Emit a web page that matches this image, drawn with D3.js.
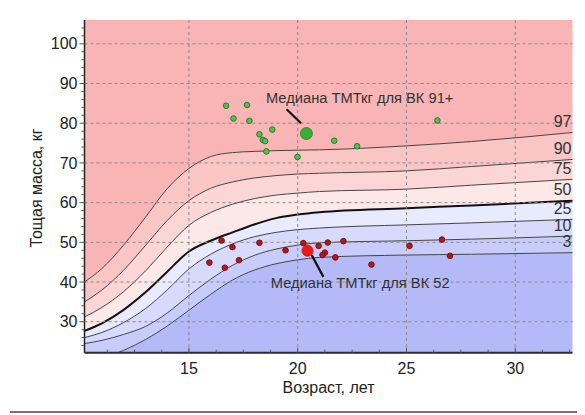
<!DOCTYPE html>
<html>
<head>
<meta charset="utf-8">
<script src="https://cdn.jsdelivr.net/npm/d3@7"></script>
<style>
  html, body { margin: 0; padding: 0; background: #fff; }
  svg { display: block; font-family: "Liberation Sans", Arial, sans-serif; }
</style>
</head>
<body>
<svg id="chart" width="585" height="415"></svg>
<script>
// Percentile curves of lean body mass by age
const ages = [10.2, 11, 12, 13, 14, 15, 16, 17, 18, 19, 20, 21, 25, 28, 32.7];
const p97 = [40.0, 43.4, 49.3, 56.3, 63.5, 68.6, 71.6, 72.6, 72.9, 73.1, 73.2, 73.3, 74.3, 75.4, 77.7];
const p90 = [35.0, 38.0, 43.0, 49.2, 55.5, 60.5, 63.6, 65.2, 66.2, 66.8, 67.2, 67.4, 68.0, 69.1, 70.9];
const p75 = [31.2, 33.6, 37.6, 42.8, 48.8, 54.3, 57.5, 59.6, 61.0, 61.9, 62.4, 62.8, 63.4, 64.4, 65.9];
const p50 = [27.7, 29.6, 33.0, 37.4, 42.6, 47.7, 50.4, 52.5, 54.5, 56.1, 57.0, 57.6, 58.6, 59.3, 60.5];
const p25 = [26.0, 27.3, 29.8, 33.3, 38.0, 43.3, 47.0, 49.6, 51.4, 52.5, 53.2, 53.6, 54.4, 54.9, 55.8];
const p10 = [24.5, 25.3, 26.8, 28.8, 32.2, 36.6, 40.7, 44.2, 46.7, 48.3, 49.3, 49.9, 50.4, 50.8, 51.6];
const p3  = [19.5, 20.8, 22.8, 25.5, 28.9, 32.9, 36.9, 40.5, 43.0, 44.6, 45.6, 46.2, 46.8, 47.0, 47.4];
const percentileNames = ["97", "90", "75", "50", "25", "10", "3"];

// Weight class 91+ athletes
const greenAge  = [16.71, 17.67, 17.05, 17.78, 18.83, 18.24, 18.40, 18.50, 18.56, 19.99, 21.68, 22.73, 26.42];
const greenMass = [84.4, 84.6, 81.2, 80.6, 78.4, 77.2, 75.8, 75.5, 72.9, 71.5, 75.6, 74.2, 80.7];
// Weight class 52 athletes
const redAge  = [16.50, 17.00, 18.24, 15.94, 16.65, 17.30, 19.44, 20.26, 20.96, 21.38, 22.10, 21.25, 21.14, 21.73, 23.39, 25.14, 26.63, 27.00];
const redMass = [50.45, 48.8, 49.9, 44.9, 43.6, 45.5, 48.0, 49.8, 49.1, 49.95, 50.3, 47.4, 46.8, 46.2, 44.4, 49.1, 50.7, 46.6];

// Medians
const medianGreen = { age: 20.40, mass: 77.4, label: "Медиана ТМТкг для ВК 91+" };
const medianRed   = { age: 20.45, mass: 47.9, label: "Медиана ТМТкг для ВК 52" };

const xTicks = [15, 20, 25, 30];
const yTicks = [30, 40, 50, 60, 70, 80, 90, 100];

(function draw() {
  const svg = d3.select("#chart");
  const pl = 84.5, pr = 572.5, pt = 20, pb = 352.7;
  const x = d3.scaleLinear().domain([10.2, 32.63]).range([pl, pr]);
  const y = d3.scaleLinear().domain([22.2, 106]).range([pb, pt]);

  svg.append("defs").append("clipPath").attr("id", "plotClip")
    .append("rect").attr("x", pl).attr("y", pt)
    .attr("width", pr - pl).attr("height", pb - pt);

  const plot = svg.append("g").attr("clip-path", "url(#plotClip)");

  const curves = [p97, p90, p75, p50, p25, p10, p3];
  const yMax = 106, yMin = 22.2;
  const bandColors = ["#f9b5b5", "#fac5c5", "#fcd6d6", "#fde8e8", "#e8eafd", "#d7dafc", "#c8ccfa", "#b4b9f8"];

  // bands from top to bottom
  const bandBounds = [];
  bandBounds.push([ages.map(() => yMax), p97]);
  for (let i = 0; i < curves.length - 1; i++) bandBounds.push([curves[i], curves[i + 1]]);
  bandBounds.push([p3, ages.map(() => yMin - 10)]);

  const area = d3.area()
    .x(d => x(d.a))
    .y0(d => y(d.lo))
    .y1(d => y(d.hi))
    .curve(d3.curveMonotoneX);

  bandBounds.forEach((b, i) => {
    const data = ages.map((a, k) => ({ a, hi: b[0][k], lo: b[1][k] }));
    plot.append("path").attr("d", area(data)).attr("fill", bandColors[i]);
  });

  // grid
  const grid = svg.append("g").attr("stroke", "#8a8a8a").attr("stroke-width", 1).attr("stroke-dasharray", "3,3");
  xTicks.forEach(t => grid.append("line").attr("x1", x(t)).attr("x2", x(t)).attr("y1", pt).attr("y2", pb));
  yTicks.forEach(t => grid.append("line").attr("x1", pl).attr("x2", pr).attr("y1", y(t)).attr("y2", y(t)));

  // percentile lines
  const line = d3.line().x(d => x(d.a)).y(d => y(d.v)).curve(d3.curveMonotoneX);
  curves.forEach((c, i) => {
    const data = ages.map((a, k) => ({ a, v: c[k] }));
    plot.append("path").attr("d", line(data)).attr("fill", "none")
      .attr("stroke", percentileNames[i] === "50" ? "#111" : "#444")
      .attr("stroke-width", percentileNames[i] === "50" ? 2 : 1);
  });

  // percentile labels at the right edge
  const lastAge = x.domain()[1];
  curves.forEach((c, i) => {
    const interp = d3.scaleLinear().domain(ages).range(c);
    svg.append("text")
      .attr("x", pr - 1).attr("y", y(interp(lastAge)) - 11)
      .attr("dy", "0.35em").attr("text-anchor", "end")
      .attr("font-size", 16).attr("fill", "#333")
      .text(percentileNames[i]);
  });

  // axes
  const yAxis = svg.append("g");
  yAxis.append("line").attr("x1", pl).attr("x2", pl).attr("y1", pt).attr("y2", pb)
    .attr("stroke", "#222").attr("stroke-width", 1.5);
  d3.range(24, 106, 2).forEach(v => {
    const major = v % 10 === 0;
    yAxis.append("line").attr("x1", pl - (major ? 5 : 3)).attr("x2", pl)
      .attr("y1", y(v)).attr("y2", y(v)).attr("stroke", "#555").attr("stroke-width", 1);
  });
  yTicks.forEach(t => yAxis.append("text")
    .attr("x", pl - 7).attr("y", y(t)).attr("dy", "0.35em").attr("text-anchor", "end")
    .attr("font-size", 16).attr("fill", "#222").text(t));

  const xAxis = svg.append("g");
  xAxis.append("line").attr("x1", pl).attr("x2", pr).attr("y1", pb).attr("y2", pb)
    .attr("stroke", "#2a2a3a").attr("stroke-width", 2);
  d3.range(11.25, 32.6, 1.25).forEach(v => {
    const major = Math.abs(v % 5) < 1e-9;
    xAxis.append("line").attr("x1", x(v)).attr("x2", x(v))
      .attr("y1", pb).attr("y2", pb - (major ? 5 : 3)).attr("stroke", "#555");
  });
  xTicks.forEach(t => xAxis.append("text")
    .attr("x", x(t)).attr("y", pb + 16).attr("dy", "0.35em").attr("text-anchor", "middle")
    .attr("font-size", 16).attr("fill", "#222").text(t));

  svg.append("text").attr("x", (pl + pr) / 2).attr("y", 387).attr("dy", "0.35em")
    .attr("text-anchor", "middle").attr("font-size", 16).attr("fill", "#222").text("Возраст, лет");
  svg.append("text").attr("transform", `translate(36,188) rotate(-90)`)
    .attr("dy", "0.35em").attr("text-anchor", "middle").attr("font-size", 16).attr("fill", "#222")
    .text("Тощая масса, кг");

  // athletes
  const pts = svg.append("g");
  greenAge.forEach((a, i) => pts.append("circle").attr("cx", x(a)).attr("cy", y(greenMass[i])).attr("r", 2.8)
    .attr("fill", "#52c152").attr("stroke", "#2c7a2c").attr("stroke-width", 1));
  redAge.forEach((a, i) => pts.append("circle").attr("cx", x(a)).attr("cy", y(redMass[i])).attr("r", 2.8)
    .attr("fill", "#b3161c").attr("stroke", "#7a1014").attr("stroke-width", 1));

  // medians with callouts
  function callout(m, tx, ty, l0, l1, r, color) {
    svg.append("line").attr("x1", x(l0[0])).attr("y1", y(l0[1])).attr("x2", x(l1[0])).attr("y2", y(l1[1]))
      .attr("stroke", "#111").attr("stroke-width", 2.2);
    svg.append("circle").attr("cx", x(m.age)).attr("cy", y(m.mass)).attr("r", r).attr("fill", color)
      .attr("stroke", d3.color(color).darker(0.5)).attr("stroke-width", 1);
    svg.append("text").attr("x", x(tx)).attr("y", y(ty)).attr("dy", "0.35em")
      .attr("font-size", 14.7).attr("fill", "#333").text(m.label);
  }
  callout(medianGreen, 18.54, 86.4, [19.49, 83.5], [20.15, 80.0], 6, "#34b034");
  callout(medianRed, 18.76, 39.75, [20.64, 46.8], [21.18, 41.3], 5.5, "#f01818");

  // rule under the chart
  svg.append("line").attr("x1", 10).attr("x2", 577).attr("y1", 412).attr("y2", 412)
    .attr("stroke", "#444").attr("stroke-width", 1.5);
})();
</script>
</body>
</html>
